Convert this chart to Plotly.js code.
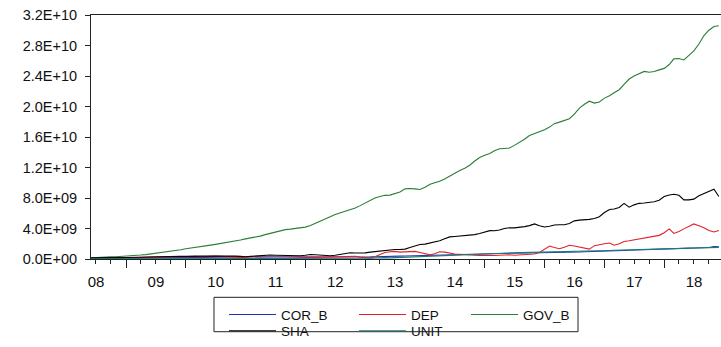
<!DOCTYPE html>
<html>
<head>
<meta charset="utf-8">
<script src="https://cdn.plot.ly/plotly-3.0.1.min.js"></script>
<style>
  html, body { margin: 0; padding: 0; overflow: hidden; background: #fff; }
  #chart { width: 740px; height: 347px; }
</style>
</head>
<body>
<div id="chart"></div>
<script>
// Monthly series, 2008M06 - 2018M12, values in billions
const START_YEAR = 2008;
const START_MONTH = 6;

const COR_B = [
  0.05,0.05,0.06,0.07,0.08,0.08,0.09,0.10,0.10,0.11,0.12,0.12,
  0.13,0.14,0.15,0.16,0.16,0.18,0.20,0.21,0.20,0.22,0.23,0.24,
  0.25,0.25,0.24,0.25,0.27,0.28,0.28,0.30,0.30,0.31,0.32,0.30,
  0.28,0.30,0.31,0.30,0.29,0.30,0.30,0.31,0.30,0.29,0.30,0.30,
  0.28,0.27,0.26,0.25,0.25,0.24,0.25,0.26,0.28,0.30,0.30,0.32,
  0.33,0.35,0.38,0.40,0.42,0.45,0.48,0.50,0.50,0.52,0.55,0.55,
  0.56,0.58,0.60,0.60,0.62,0.62,0.63,0.65,0.68,0.70,0.72,0.75,
  0.75,0.75,0.76,0.78,0.76,0.75,0.75,0.78,0.80,0.82,0.82,0.85,
  0.88,0.90,0.92,0.95,0.96,0.98,1.00,1.02,1.05,1.08,1.10,1.12,
  1.15,1.18,1.20,1.22,1.24,1.26,1.28,1.30,1.32,1.35,1.38,1.40,
  1.42,1.44,1.46,1.48,1.50,1.62,1.60
];

const DEP = [
  0.05,0.08,0.10,0.12,0.10,0.12,0.15,0.18,0.15,0.20,0.25,0.22,
  0.25,0.30,0.28,0.30,0.35,0.32,0.30,0.35,0.38,0.35,0.30,0.35,
  0.40,0.38,0.35,0.30,0.25,0.20,0.15,0.12,0.10,0.10,0.12,0.15,
  0.10,0.08,0.10,0.12,0.10,0.15,0.18,0.20,0.22,0.25,0.22,0.28,
  0.30,0.32,0.30,0.35,0.40,0.35,0.25,0.15,0.12,0.30,0.60,0.85,
  0.95,1.00,0.90,0.95,0.92,1.00,0.85,0.72,0.55,0.70,0.95,0.90,
  0.75,0.65,0.62,0.55,0.52,0.50,0.48,0.45,0.42,0.45,0.50,0.55,
  0.55,0.50,0.55,0.60,0.60,0.65,0.85,1.30,1.70,1.50,1.35,1.55,
  1.80,1.70,1.55,1.40,1.30,1.75,1.90,2.00,2.10,1.80,2.00,2.30,
  2.40,2.50,2.60,2.75,2.90,3.00,3.10,3.45,3.95,3.35,3.60,3.95,
  4.25,4.60,4.35,4.10,3.75,3.55,3.75
];

const GOV_B = [
  0.15,0.20,0.22,0.25,0.28,0.30,0.33,0.36,0.42,0.48,0.52,0.58,
  0.66,0.75,0.82,0.90,0.98,1.10,1.22,1.34,1.42,1.50,1.60,1.70,
  1.82,1.92,2.02,2.12,2.22,2.35,2.50,2.64,2.75,2.85,3.00,3.20,
  3.38,3.55,3.75,3.85,3.92,4.00,4.08,4.18,4.40,4.70,4.95,5.25,
  5.55,5.85,6.05,6.25,6.45,6.70,7.00,7.35,7.75,8.00,8.20,8.35,
  8.38,8.55,8.80,9.20,9.25,9.20,9.12,9.40,9.80,10.00,10.20,10.50,
  10.90,11.25,11.60,11.90,12.30,12.85,13.30,13.60,13.85,14.20,14.45,14.50,
  14.55,14.90,15.25,15.70,16.20,16.45,16.70,16.95,17.30,17.75,17.95,18.20,
  18.40,19.00,19.80,20.30,20.70,20.45,20.60,21.10,21.40,21.80,22.20,22.90,
  23.60,24.00,24.30,24.60,24.50,24.60,24.80,25.00,25.50,26.25,26.30,26.10,
  26.70,27.30,28.20,29.30,30.00,30.50,30.60
];

const SHA = [
  0.15,0.15,0.12,0.10,0.12,0.15,0.18,0.20,0.22,0.25,0.25,0.28,
  0.30,0.32,0.30,0.28,0.30,0.32,0.35,0.35,0.33,0.35,0.38,0.40,
  0.40,0.42,0.45,0.42,0.40,0.38,0.35,0.30,0.35,0.40,0.45,0.50,
  0.52,0.50,0.48,0.45,0.42,0.40,0.42,0.50,0.60,0.55,0.48,0.42,
  0.42,0.50,0.60,0.75,0.82,0.78,0.75,0.80,0.90,0.98,1.05,1.12,
  1.20,1.25,1.25,1.30,1.50,1.75,1.90,1.95,2.10,2.20,2.40,2.65,
  2.90,2.95,3.00,3.12,3.15,3.20,3.35,3.55,3.72,3.70,3.80,4.00,
  4.10,4.08,4.12,4.25,4.38,4.60,4.35,4.20,4.30,4.45,4.50,4.50,
  4.65,5.00,5.10,5.12,5.20,5.30,5.55,6.10,6.50,6.55,6.75,7.30,
  6.80,7.10,7.30,7.35,7.40,7.50,7.70,8.20,8.40,8.50,8.35,7.75,
  7.75,7.85,8.30,8.60,8.90,9.15,8.20
];

const UNIT = [
  0.02,0.02,0.02,0.03,0.03,0.03,0.03,0.03,0.04,0.04,0.04,0.04,
  0.04,0.04,0.04,0.04,0.04,0.04,0.04,0.04,0.04,0.04,0.04,0.04,
  0.04,0.04,0.04,0.04,0.04,0.04,0.04,0.04,0.04,0.04,0.04,0.04,
  0.04,0.04,0.04,0.04,0.04,0.04,0.04,0.04,0.04,0.04,0.05,0.05,
  0.05,0.05,0.06,0.06,0.07,0.08,0.08,0.10,0.12,0.15,0.15,0.18,
  0.15,0.18,0.20,0.22,0.25,0.28,0.30,0.32,0.35,0.38,0.42,0.48,
  0.52,0.55,0.58,0.60,0.62,0.65,0.65,0.68,0.70,0.72,0.75,0.78,
  0.80,0.82,0.84,0.85,0.86,0.88,0.90,0.90,0.92,0.94,0.95,0.97,
  0.98,1.00,1.02,1.04,1.05,1.07,1.08,1.10,1.12,1.14,1.15,1.17,
  1.18,1.20,1.22,1.24,1.26,1.28,1.30,1.32,1.34,1.36,1.38,1.40,
  1.42,1.44,1.45,1.46,1.48,1.50,1.52
];

const yTickValues = [0, 4e9, 8e9, 12e9, 16e9, 20e9, 24e9, 28e9, 32e9];
const yTickLabels = ['0.0E+00','4.0E+09','8.0E+09','1.2E+10','1.6E+10','2.0E+10','2.4E+10','2.8E+10','3.2E+10'];

// month-start dates for each observation
const dates = COR_B.map((_, i) => {
  const m = START_MONTH - 1 + i;
  const y = START_YEAR + Math.floor(m / 12);
  return y + '-' + String(m % 12 + 1).padStart(2, '0') + '-01';
});
const toUnits = arr => arr.map(v => v * 1e9);

const FONT = 'Liberation Sans, Arial, sans-serif';

// each key gets its own legend so the two-row, column-aligned key can be placed exactly
const series = [
  { name: 'COR_B', data: COR_B, color: '#2233b0', legend: 'legend',  lx: 0.2049, ly: -0.1647 },
  { name: 'DEP',   data: DEP,   color: '#e0202a', legend: 'legend2', lx: 0.4052, ly: -0.1647 },
  { name: 'GOV_B', data: GOV_B, color: '#2a7d36', legend: 'legend3', lx: 0.5778, ly: -0.1647 },
  { name: 'SHA',   data: SHA,   color: '#000000', legend: 'legend4', lx: 0.2049, ly: -0.2314 },
  { name: 'UNIT',  data: UNIT,  color: '#1b7b78', legend: 'legend5', lx: 0.4052, ly: -0.2314 }
];

const traces = series.map(s => ({
  type: 'scatter',
  mode: 'lines',
  name: s.name,
  x: dates,
  y: toUnits(s.data),
  line: { color: s.color, width: 1.1 },
  legend: s.legend,
  hoverinfo: 'skip'
}));

const layout = {
  width: 740,
  height: 347,
  margin: { l: 91, r: 0, t: 15, b: 77, pad: 0 },
  paper_bgcolor: '#fff',
  plot_bgcolor: '#fff',
  font: { family: FONT, size: 15, color: '#111' },
  showlegend: true,
  xaxis: {
    type: 'date',
    range: ['2008-06-01', '2019-04-09'],
    showgrid: false,
    zeroline: false,
    showline: true,
    mirror: true,
    linecolor: '#222',
    linewidth: 1,
    ticks: 'outside',
    ticklen: 8,
    tickcolor: '#222',
    tick0: '2008-01-01',
    dtick: 'M12',
    tickformat: '%y',
    ticklabelmode: 'period',
    ticklabelstandoff: 1,
    minor: { dtick: 'M3', ticks: 'outside', ticklen: 4, tickcolor: '#222', showgrid: false },
    tickfont: { family: FONT, size: 15, color: '#111' }
  },
  yaxis: {
    range: [0, 3.2e10],
    showgrid: false,
    zeroline: false,
    showline: true,
    mirror: true,
    linecolor: '#222',
    linewidth: 1,
    ticks: 'outside',
    ticklen: 5,
    tickcolor: '#222',
    tickmode: 'array',
    tickvals: yTickValues,
    ticktext: yTickLabels,
    ticklabelstandoff: 5,
    tickfont: { family: FONT, size: 14.5, color: '#111' }
  },
  shapes: [{
    type: 'rect', xref: 'paper', yref: 'paper',
    x0: 0.1895, x1: 0.7504, y0: -0.157, y1: -0.298,
    line: { color: '#222', width: 1 }, fillcolor: 'rgba(0,0,0,0)'
  }]
};

series.forEach(s => {
  layout[s.legend] = {
    orientation: 'h',
    xanchor: 'left',
    yanchor: 'top',
    x: s.lx,
    y: s.ly,
    bgcolor: 'rgba(0,0,0,0)',
    borderwidth: 0,
    itemwidth: 47,
    font: { family: FONT, size: 13.5, color: '#111' }
  };
});

Plotly.newPlot('chart', traces, layout, { staticPlot: true, displayModeBar: false });
</script>
</body>
</html>
